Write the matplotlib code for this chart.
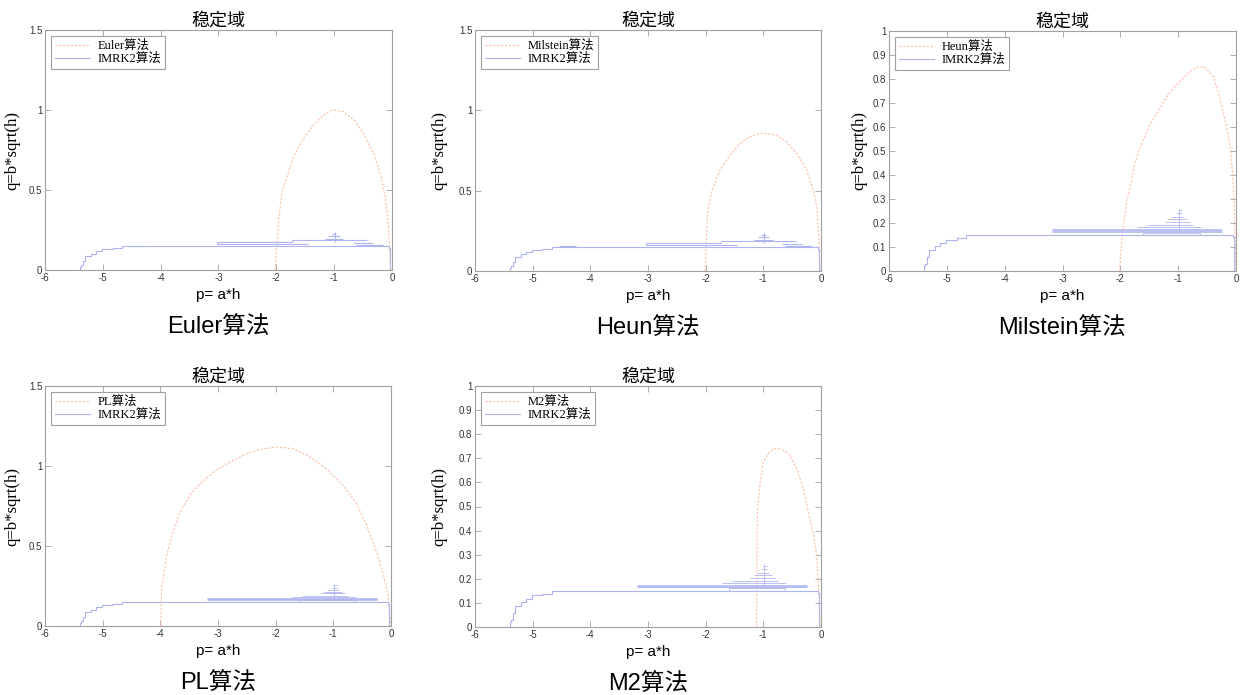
import numpy as np
import matplotlib.pyplot as plt

plt.rcParams['font.family'] = ['Liberation Sans', 'Noto Sans CJK SC']

# 坐标轴刻度
x_ticks = [-6, -5, -4, -3, -2, -1, 0]
y_ticks_big = [0, 0.5, 1, 1.5]
y_labels_big = ['0', '0.5', '1', '1.5']
y_ticks_small = [0, 0.1, 0.2, 0.3, 0.4, 0.5, 0.6, 0.7, 0.8, 0.9, 1]
y_labels_small = ['0', '0.1', '0.2', '0.3', '0.4', '0.5', '0.6', '0.7', '0.8', '0.9', '1']

# 各算法稳定域边界
euler_p = [-2.02, -2.0, -1.96, -1.9, -1.82, -1.70, -1.53, -1.35, -1.18, -1.04,
           -0.84, -0.66, -0.49, -0.32, -0.2, -0.11, -0.06, -0.03, -0.015]
euler_q = [0, 0.125, 0.31, 0.49, 0.58, 0.71, 0.82, 0.91, 0.97, 1.0,
           0.99, 0.94, 0.85, 0.73, 0.60, 0.44, 0.27, 0.04, 0]

milstein_p = [-2.01, -1.99, -1.97, -1.90, -1.75, -1.58, -1.40, -1.23, -1.06, -1.0,
              -0.77, -0.60, -0.42, -0.25, -0.13, -0.075, -0.04, -0.017]
milstein_q = [0, 0.15, 0.36, 0.49, 0.63, 0.72, 0.795, 0.836, 0.857, 0.858,
              0.846, 0.805, 0.73, 0.63, 0.5, 0.4, 0.23, 0]

heun_p = [-2.01, -1.995, -1.95, -1.89, -1.83, -1.75, -1.63, -1.49, -1.31, -1.14, -0.97,
          -0.80, -0.68, -0.54, -0.39, -0.28, -0.17, -0.10, -0.06, -0.03, -0.006, 0]
heun_q = [0, 0.072, 0.18, 0.29, 0.35, 0.45, 0.53, 0.61, 0.68, 0.746, 0.79,
          0.83, 0.85, 0.85, 0.81, 0.725, 0.607, 0.517, 0.406, 0.294, 0.044, 0]

pl_p = [-3.99, -3.98, -3.94, -3.89, -3.80, -3.66, -3.49, -3.31, -3.08, -2.79, -2.50, -2.27,
        -1.98, -1.69, -1.40, -1.12, -0.83, -0.60, -0.42, -0.25, -0.13, -0.05, -0.01, 0]
pl_q = [0, 0.233, 0.317, 0.44, 0.567, 0.71, 0.817, 0.89, 0.9625, 1.025, 1.077, 1.104,
        1.119, 1.108, 1.056, 0.983, 0.879, 0.765, 0.629, 0.4625, 0.317, 0.19, 0.025, 0]

m2_p = [-1.116, -1.104, -1.06, -1.0, -0.91, -0.83, -0.74, -0.65, -0.54, -0.42,
        -0.31, -0.22, -0.13, -0.075, -0.046, -0.017, -0.01]
m2_q = [0, 0.478, 0.589, 0.686, 0.72, 0.738, 0.741, 0.734, 0.713, 0.658,
        0.575, 0.478, 0.381, 0.298, 0.187, 0.02, 0]

# IMRK2 稳定域主边界
imrk2_p = [-5.4, -5.38, -5.34, -5.30, -5.21, -5.12, -5.01, -4.83, -4.66, -4.49,
           -0.06, -0.04, -0.02]
imrk2_q = [0, 0.02, 0.03, 0.058, 0.086, 0.103, 0.117, 0.131, 0.139, 0.15,
           0.15, 0.14, 0]

# IMRK2 图中零散的水平线段 (q, 起点p, 终点p)
seg_a_q = [0.173, 0.162, 0.1875, 0.167, 0.155, 0.196, 0.21, 0.225, 0.153]
seg_a_p0 = [-3.03, -3.03, -1.73, -0.68, -0.62, -1.16, -1.10, -1.04, -4.55]
seg_a_p1 = [-1.73, -1.45, -0.44, -0.33, -0.15, -0.84, -0.90, -0.96, -4.25]
vseg_a_p = [-0.98, -1.73, -3.03]
vseg_a_q0 = [0.175, 0.173, 0.162]
vseg_a_q1 = [0.235, 0.1875, 0.173]

seg_b_q = [0.16, 0.164, 0.167, 0.170, 0.174, 0.182, 0.19, 0.205, 0.215, 0.225, 0.24, 0.255]
seg_b_p0 = [-1.6, -3.19, -3.19, -3.19, -3.19, -1.72, -1.54, -1.23, -1.17, -1.11, -1.03, -1.0]
seg_b_p1 = [-0.62, -0.25, -0.25, -0.25, -0.25, -0.6, -0.74, -0.80, -0.85, -0.91, -0.94, -0.94]
vseg_b_p = [-0.98, -1.6, -0.62]
vseg_b_q0 = [0.17, 0.151, 0.151]
vseg_b_q1 = [0.26, 0.16, 0.16]

orange = '#fbbfa6'
blue = '#aeb5ee'
gray = '#a0a0a0'

# 子图: 位置(像素: 左, 右, 上, 下), 图例名, 下方标题, 曲线, y上限, 线段组, y标签偏移
panels = [
    ((45, 392, 30, 270), 'Euler算法', 'Euler算法', euler_p, euler_q, 1.5, 'a', 25),
    ((475, 821, 30, 271), 'Milstein算法', 'Heun算法', milstein_p, milstein_q, 1.5, 'a', 28),
    ((889, 1236, 31, 271), 'Heun算法', 'Milstein算法', heun_p, heun_q, 1.0, 'b', 22),
    ((45, 391, 386, 626), 'PL算法', 'PL算法', pl_p, pl_q, 1.5, 'b', 25),
    ((475, 821, 386, 627), 'M2算法', 'M2算法', m2_p, m2_q, 1.0, 'b', 28),
]

W, H = 1249, 695
fig = plt.figure(figsize=(W / 100, H / 100), dpi=100)

for (l, r, t, b), leg_name, caption, cp, cq, ymax, grp, ylab_off in panels:
    ax = fig.add_axes([l / W, (H - b) / H, (r - l) / W, (b - t) / H])
    ax.plot(cp, cq, color=orange, lw=0.8, ls=(0, (2, 1.5)), label=leg_name)
    ax.plot(imrk2_p, imrk2_q, color=blue, lw=0.8, drawstyle='steps-pre', label='IMRK2算法')
    if grp == 'a':
        ax.hlines(seg_a_q, seg_a_p0, seg_a_p1, color=blue, lw=0.8)
        ax.vlines(vseg_a_p, vseg_a_q0, vseg_a_q1, color=blue, lw=0.8)
    else:
        ax.hlines(seg_b_q, seg_b_p0, seg_b_p1, color=blue, lw=0.6)
        ax.vlines(vseg_b_p, vseg_b_q0, vseg_b_q1, color=blue, lw=0.6)

    ax.set_xlim(-6, 0)
    ax.set_ylim(0, ymax)
    ax.set_xticks(x_ticks)
    ax.set_xticklabels([str(v) for v in x_ticks])
    if ymax > 1:
        ax.set_yticks(y_ticks_big)
        ax.set_yticklabels(y_labels_big)
    else:
        ax.set_yticks(y_ticks_small)
        ax.set_yticklabels(y_labels_small)
    ax.tick_params(direction='in', length=4, width=0.6, colors=gray, labelcolor='#333333',
                   labelsize=7, top=True, right=True, pad=2)
    for s in ax.spines.values():
        s.set_color(gray)
        s.set_linewidth(0.8)

    ax.set_title('稳定域', fontsize=13, pad=3, family=['Noto Sans CJK SC'])
    ax.set_xlabel('p= a*h', fontsize=11, labelpad=4)
    ax.set_ylabel('q=b*sqrt(h)', fontsize=12, family=['Liberation Serif'])
    ax.yaxis.set_label_coords(-ylab_off / (r - l), 0.5)
    ax.text(0.5, -0.24, caption, transform=ax.transAxes, ha='center', va='center',
            fontsize=17)

    leg = ax.legend(loc='upper left', handlelength=2.8, borderpad=0.3,
                    labelspacing=0.05, handletextpad=0.6, fancybox=False, framealpha=1,
                    prop={'family': ['Liberation Serif', 'Noto Sans CJK SC'], 'size': 9})
    leg.get_frame().set_edgecolor(gray)
    leg.get_frame().set_linewidth(0.8)

fig.savefig('out.png', dpi=100)
